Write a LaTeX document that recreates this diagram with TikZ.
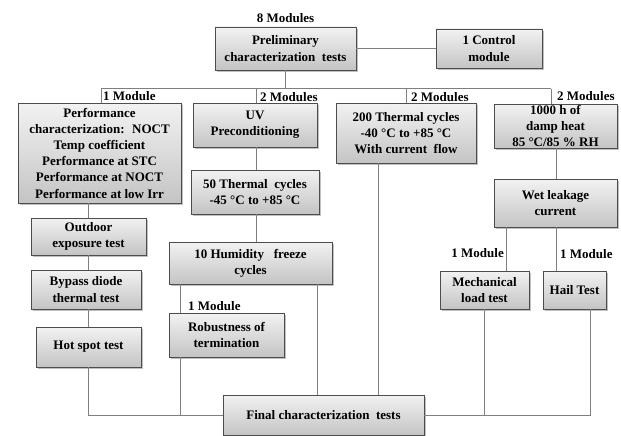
\documentclass[tikz,border=0pt]{standalone}
\usepackage{fontspec}
\setmainfont{Liberation Serif}
\usetikzlibrary{shadows}
\definecolor{boxline}{HTML}{4D4D4D}
\definecolor{conline}{HTML}{7F7F7F}
\definecolor{boxtop}{HTML}{F2F2F2}
\definecolor{boxbot}{HTML}{C4C4C4}
\begin{document}
\begin{tikzpicture}[x=1pt,y=-1pt,
  font=\fontsize{13}{16.2}\selectfont\bfseries,
  box/.style={draw=boxline, line width=0.7pt, top color=boxtop, bottom color=boxbot,
    align=center, inner sep=0pt,
    drop shadow={shadow xshift=1.6pt, shadow yshift=-1.6pt, fill=black!45, opacity=0.55}},
  conn/.style={draw=conline, line width=0.8pt},
  lbl/.style={inner sep=0pt}]
\useasboundingbox (0,0) rectangle (621,436);

% boxes
\node[box, minimum width=141pt, minimum height=43pt] (prelim) at (285.5,48.5) {Preliminary\\characterization~ tests};
\node[box, minimum width=106pt, minimum height=39pt] (control) at (489,48.5) {1 Control\\module};
\node[box, minimum width=163pt, minimum height=100pt] (perf) at (99.5,153) {Performance\\characterization:~ NOCT\\Temp coefficient\\Performance at STC\\Performance at NOCT\\Performance at low Irr};
\node[box, minimum width=124pt, minimum height=44pt] (uv) at (255,125) {UV\\Preconditioning};
\node[box, minimum width=140pt, minimum height=60pt] (tc200) at (406,133) {200 Thermal cycles\\-40 °C to +85 °C\\With current~ flow};
\node[box, minimum width=123pt, minimum height=44pt] (damp) at (555.5,126) {1000 h of\\damp heat\\85 °C/85 \% RH};
\node[box, minimum width=128pt, minimum height=44pt] (tc50) at (255,192) {50 Thermal~ cycles\\-45 °C to +85 °C};
\node[box, minimum width=123pt, minimum height=48pt] (wet) at (555.5,203) {Wet leakage\\current};
\node[box, minimum width=115pt, minimum height=37pt] (outdoor) at (88.5,236.5) {Outdoor\\exposure test};
\node[box, minimum width=163pt, minimum height=42pt] (humid) at (250.5,263) {10 Humidity~~ freeze\\cycles};
\node[box, minimum width=110pt, minimum height=39pt] (bypass) at (86,289.5) {Bypass diode\\thermal test};
\node[box, minimum width=115pt, minimum height=44pt] (robust) at (226.5,335) {Robustness of\\termination};
\node[box, minimum width=89pt, minimum height=38pt] (mech) at (484.5,290) {Mechanical\\load test};
\node[box, minimum width=63pt, minimum height=38pt] (hail) at (574.5,290) {Hail Test};
\node[box, minimum width=105pt, minimum height=40pt] (hotspot) at (88.5,347) {Hot spot test};
\node[box, minimum width=201pt, minimum height=40pt] (final) at (323.5,415) {Final characterization~ tests};

% helper coordinates
\coordinate (b1) at (101,88.5);
\coordinate (b2) at (256.7,88.5);
\coordinate (b3) at (406,88.5);
\coordinate (b4) at (551,88.5);
\coordinate (xo) at (88.5,0);
\coordinate (xu) at (256,0);
\coordinate (xr) at (180.7,0);
\coordinate (xh) at (317,0);
\coordinate (xt) at (378.5,0);
\coordinate (xd) at (556,0);
\coordinate (xm) at (506,0);
\coordinate (xmb) at (484,0);
\coordinate (xhb) at (590.5,0);

% connectors
\draw[conn] (prelim.east) -- (control.west);
\draw[conn] (prelim.south) -- (prelim.south |- b1);
\draw[conn] (b1) -- (b4);
\draw[conn] (b1) -- (perf.north -| b1);
\draw[conn] (b2) -- (uv.north -| b2);
\draw[conn] (b3) -- (tc200.north -| b3);
\draw[conn] (b4) -- (damp.north -| b4);
\draw[conn] (perf.south -| xo) -- (outdoor.north -| xo);
\draw[conn] (outdoor.south -| xo) -- (bypass.north -| xo);
\draw[conn] (bypass.south -| xo) -- (hotspot.north -| xo);
\draw[conn] (hotspot.south -| xo) -- (xo |- final.west) -- (final.west);
\draw[conn] (uv.south -| xu) -- (tc50.north -| xu);
\draw[conn] (tc50.south -| xu) -- (humid.north -| xu);
\draw[conn] (humid.south -| xr) -- (robust.north -| xr);
\draw[conn] (robust.south -| xr) -- (xr |- final.west);
\draw[conn] (humid.south -| xh) -- (final.north -| xh);
\draw[conn] (tc200.south -| xt) -- (final.north -| xt);
\draw[conn] (damp.south -| xd) -- (wet.north -| xd);
\draw[conn] (wet.south -| xm) -- (mech.north -| xm);
\draw[conn] (wet.south -| xd) -- (hail.north -| xd);
\draw[conn] (mech.south -| xmb) -- (xmb |- final.east);
\draw[conn] (hail.south -| xhb) -- (xhb |- final.east) -- (final.east);

% labels
\node[lbl] (l8) at (285.5,18) {8 Modules};
\node[lbl, anchor=west] (l1a) at (103,96.5) {1 Module};
\node[lbl, anchor=west] (l2a) at (260,97) {2 Modules};
\node[lbl, anchor=west] (l2b) at (411,97) {2 Modules};
\node[lbl, anchor=west] (l2c) at (557,96) {2 Modules};
\node[lbl, anchor=west] (l1b) at (188,306) {1 Module};
\node[lbl, anchor=east] (l1c) at (504,253.5) {1 Module};
\node[lbl, anchor=west] (l1d) at (560,254.5) {1 Module};
\end{tikzpicture}
\end{document}
